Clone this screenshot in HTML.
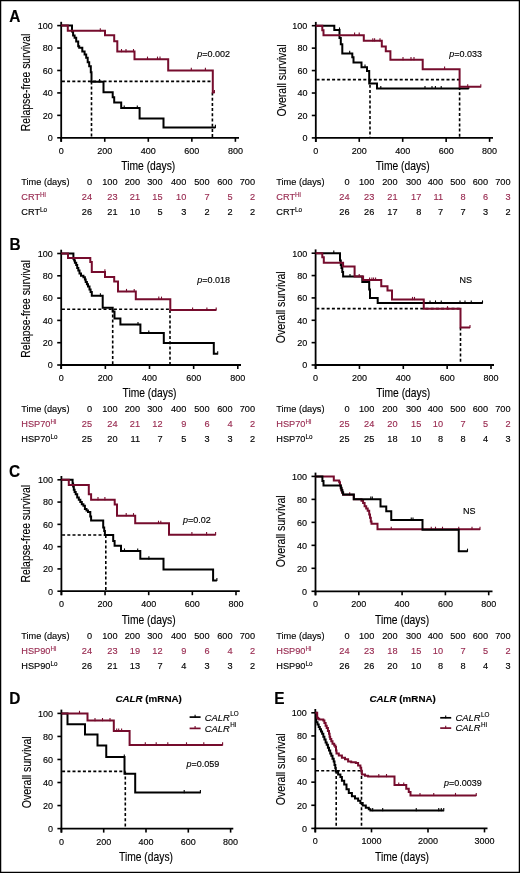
<!DOCTYPE html>
<html><head><meta charset="utf-8"><style>
html,body{margin:0;padding:0;background:#fff;}
svg{display:block;will-change:transform;}
text{font-family:"Liberation Sans", sans-serif;}
</style></head><body>
<svg width="520" height="873" viewBox="0 0 520 873">
<rect x="0" y="0" width="520" height="873" fill="#fff" stroke="none"/>
<rect x="0.6" y="0.6" width="518.8" height="871.8" fill="none" stroke="#000" stroke-width="1.3"/>
<g stroke="#000" fill="#000">
<text x="0" y="0" font-size="16.6" stroke="#000" stroke-width="0.14" font-weight="bold" transform="translate(9.2 21.6) scale(0.93 1)">A</text>
<line x1="61.20" y1="21.80" x2="61.20" y2="141.80" stroke-width="1.8"/>
<line x1="60.30" y1="137.80" x2="239.00" y2="137.80" stroke-width="1.8"/>
<line x1="57.20" y1="137.80" x2="61.20" y2="137.80" stroke-width="1.6"/>
<text x="52.8" y="141.1" font-size="9" text-anchor="end" stroke="#000" stroke-width="0.14">0</text>
<line x1="57.20" y1="115.36" x2="61.20" y2="115.36" stroke-width="1.6"/>
<text x="52.8" y="118.66" font-size="9" text-anchor="end" stroke="#000" stroke-width="0.14">20</text>
<line x1="57.20" y1="92.92" x2="61.20" y2="92.92" stroke-width="1.6"/>
<text x="52.8" y="96.22" font-size="9" text-anchor="end" stroke="#000" stroke-width="0.14">40</text>
<line x1="57.20" y1="70.48" x2="61.20" y2="70.48" stroke-width="1.6"/>
<text x="52.8" y="73.78" font-size="9" text-anchor="end" stroke="#000" stroke-width="0.14">60</text>
<line x1="57.20" y1="48.04" x2="61.20" y2="48.04" stroke-width="1.6"/>
<text x="52.8" y="51.34" font-size="9" text-anchor="end" stroke="#000" stroke-width="0.14">80</text>
<line x1="57.20" y1="25.60" x2="61.20" y2="25.60" stroke-width="1.6"/>
<text x="52.8" y="28.9" font-size="9" text-anchor="end" stroke="#000" stroke-width="0.14">100</text>
<line x1="61.20" y1="137.80" x2="61.20" y2="141.80" stroke-width="1.6"/>
<text x="61.2" y="153.8" font-size="9" text-anchor="middle" stroke="#000" stroke-width="0.14">0</text>
<line x1="104.75" y1="137.80" x2="104.75" y2="141.80" stroke-width="1.6"/>
<text x="104.75" y="153.8" font-size="9" text-anchor="middle" stroke="#000" stroke-width="0.14">200</text>
<line x1="148.30" y1="137.80" x2="148.30" y2="141.80" stroke-width="1.6"/>
<text x="148.3" y="153.8" font-size="9" text-anchor="middle" stroke="#000" stroke-width="0.14">400</text>
<line x1="191.85" y1="137.80" x2="191.85" y2="141.80" stroke-width="1.6"/>
<text x="191.85" y="153.8" font-size="9" text-anchor="middle" stroke="#000" stroke-width="0.14">600</text>
<line x1="235.40" y1="137.80" x2="235.40" y2="141.80" stroke-width="1.6"/>
<text x="235.4" y="153.8" font-size="9" text-anchor="middle" stroke="#000" stroke-width="0.14">800</text>
<text x="148.3" y="170.1" font-size="12.2" text-anchor="middle" stroke="#000" stroke-width="0.14" textLength="54" lengthAdjust="spacingAndGlyphs">Time (days)</text>
<text x="0" y="0" font-size="12.2" text-anchor="middle" stroke="#000" stroke-width="0.14" textLength="97.5" lengthAdjust="spacingAndGlyphs" transform="translate(29.80 82.40) rotate(-90)">Relapse-free survival</text>
<line x1="61.90" y1="81.40" x2="212.60" y2="81.40" stroke-width="1.6" stroke-dasharray="3,2.2"/>
<line x1="91.50" y1="81.40" x2="91.50" y2="137.80" stroke-width="1.6" stroke-dasharray="3,2.2"/>
<line x1="212.40" y1="92.50" x2="212.40" y2="137.80" stroke-width="1.6" stroke-dasharray="3,2.2"/>
<path d="M61.2 25.6 H72 V31.5 H73.1 V35.4 H74.6 V37.7 H76.2 V41.5 H78.2 V46.2 H79.2 V47.7 H82.3 V51.5 H84.6 V54.6 H86.2 V57.7 H87.7 V62.3 H89.2 V66.2 H90.8 V72.3 H91.5 V81.7 H103.5 V92.2 H112.7 V97.3 H114.2 V102.4 H121.2 V108 H139.6 V118.4 H163.5 V127.4 H215.4" fill="none" stroke="#000" stroke-width="2.0"/>
<line x1="99.60" y1="82.30" x2="99.60" y2="79.10" stroke-width="1.1"/>
<line x1="124.20" y1="108.60" x2="124.20" y2="105.40" stroke-width="1.1"/>
<line x1="137.30" y1="108.60" x2="137.30" y2="105.40" stroke-width="1.1"/>
<line x1="215.40" y1="128.00" x2="215.40" y2="124.80" stroke-width="1.1"/>
<path d="M61.2 25.6 H67.8 V30.8 H105 V35.3 H114.2 V41.2 H117.3 V51.6 H134.5 V59.2 H168.2 V70.4 H212.8 V92.5 H214.6" fill="none" stroke="#760c2d" stroke-width="2.0"/>
<line x1="100.30" y1="31.40" x2="100.30" y2="28.20" stroke="#760c2d" stroke-width="1.1"/>
<line x1="121.50" y1="52.20" x2="121.50" y2="49.00" stroke="#760c2d" stroke-width="1.1"/>
<line x1="126.00" y1="52.20" x2="126.00" y2="49.00" stroke="#760c2d" stroke-width="1.1"/>
<line x1="133.50" y1="52.20" x2="133.50" y2="49.00" stroke="#760c2d" stroke-width="1.1"/>
<line x1="147.50" y1="59.80" x2="147.50" y2="56.60" stroke="#760c2d" stroke-width="1.1"/>
<line x1="157.50" y1="59.80" x2="157.50" y2="56.60" stroke="#760c2d" stroke-width="1.1"/>
<line x1="160.00" y1="59.80" x2="160.00" y2="56.60" stroke="#760c2d" stroke-width="1.1"/>
<line x1="191.30" y1="71.00" x2="191.30" y2="67.80" stroke="#760c2d" stroke-width="1.1"/>
<line x1="205.40" y1="71.00" x2="205.40" y2="67.80" stroke="#760c2d" stroke-width="1.1"/>
<line x1="214.40" y1="93.10" x2="214.40" y2="89.90" stroke="#760c2d" stroke-width="1.1"/>
<text x="197.2" y="56.8" font-size="9" stroke="#000" stroke-width="0.14"><tspan font-style="italic">p</tspan>=0.002</text>
<text x="21.3" y="185.0" font-size="9.2" stroke="#000" stroke-width="0.14">Time (days)</text>
<text x="92" y="185.0" font-size="9.2" text-anchor="end" stroke="#000" stroke-width="0.14">0</text>
<text x="117.5" y="185.0" font-size="9.2" text-anchor="end" stroke="#000" stroke-width="0.14">100</text>
<text x="140" y="185.0" font-size="9.2" text-anchor="end" stroke="#000" stroke-width="0.14">200</text>
<text x="162.5" y="185.0" font-size="9.2" text-anchor="end" stroke="#000" stroke-width="0.14">300</text>
<text x="186.25" y="185.0" font-size="9.2" text-anchor="end" stroke="#000" stroke-width="0.14">400</text>
<text x="209.5" y="185.0" font-size="9.2" text-anchor="end" stroke="#000" stroke-width="0.14">500</text>
<text x="232.5" y="185.0" font-size="9.2" text-anchor="end" stroke="#000" stroke-width="0.14">600</text>
<text x="255" y="185.0" font-size="9.2" text-anchor="end" stroke="#000" stroke-width="0.14">700</text>
<text x="21.3" y="200.29999999999998" font-size="9.2" fill="#982a50" stroke="#982a50" stroke-width="0.14">CRT<tspan font-size="6.3" dy="-3.3">Hi</tspan></text>
<text x="92" y="200.29999999999998" font-size="9.2" text-anchor="end" fill="#982a50" stroke="#982a50" stroke-width="0.14">24</text>
<text x="117.5" y="200.29999999999998" font-size="9.2" text-anchor="end" fill="#982a50" stroke="#982a50" stroke-width="0.14">23</text>
<text x="140" y="200.29999999999998" font-size="9.2" text-anchor="end" fill="#982a50" stroke="#982a50" stroke-width="0.14">21</text>
<text x="162.5" y="200.29999999999998" font-size="9.2" text-anchor="end" fill="#982a50" stroke="#982a50" stroke-width="0.14">15</text>
<text x="186.25" y="200.29999999999998" font-size="9.2" text-anchor="end" fill="#982a50" stroke="#982a50" stroke-width="0.14">10</text>
<text x="209.5" y="200.29999999999998" font-size="9.2" text-anchor="end" fill="#982a50" stroke="#982a50" stroke-width="0.14">7</text>
<text x="232.5" y="200.29999999999998" font-size="9.2" text-anchor="end" fill="#982a50" stroke="#982a50" stroke-width="0.14">5</text>
<text x="255" y="200.29999999999998" font-size="9.2" text-anchor="end" fill="#982a50" stroke="#982a50" stroke-width="0.14">2</text>
<text x="21.3" y="215.1" font-size="9.2" stroke="#000" stroke-width="0.14">CRT<tspan font-size="6.3" dy="-3.3">Lo</tspan></text>
<text x="92" y="215.1" font-size="9.2" text-anchor="end" stroke="#000" stroke-width="0.14">26</text>
<text x="117.5" y="215.1" font-size="9.2" text-anchor="end" stroke="#000" stroke-width="0.14">21</text>
<text x="140" y="215.1" font-size="9.2" text-anchor="end" stroke="#000" stroke-width="0.14">10</text>
<text x="162.5" y="215.1" font-size="9.2" text-anchor="end" stroke="#000" stroke-width="0.14">5</text>
<text x="186.25" y="215.1" font-size="9.2" text-anchor="end" stroke="#000" stroke-width="0.14">3</text>
<text x="209.5" y="215.1" font-size="9.2" text-anchor="end" stroke="#000" stroke-width="0.14">2</text>
<text x="232.5" y="215.1" font-size="9.2" text-anchor="end" stroke="#000" stroke-width="0.14">2</text>
<text x="255" y="215.1" font-size="9.2" text-anchor="end" stroke="#000" stroke-width="0.14">2</text>
<line x1="315.80" y1="21.90" x2="315.80" y2="141.90" stroke-width="1.8"/>
<line x1="314.90" y1="137.90" x2="493.00" y2="137.90" stroke-width="1.8"/>
<line x1="311.80" y1="137.90" x2="315.80" y2="137.90" stroke-width="1.6"/>
<text x="307.4" y="141.2" font-size="9" text-anchor="end" stroke="#000" stroke-width="0.14">0</text>
<line x1="311.80" y1="115.46" x2="315.80" y2="115.46" stroke-width="1.6"/>
<text x="307.4" y="118.76" font-size="9" text-anchor="end" stroke="#000" stroke-width="0.14">20</text>
<line x1="311.80" y1="93.02" x2="315.80" y2="93.02" stroke-width="1.6"/>
<text x="307.4" y="96.32" font-size="9" text-anchor="end" stroke="#000" stroke-width="0.14">40</text>
<line x1="311.80" y1="70.58" x2="315.80" y2="70.58" stroke-width="1.6"/>
<text x="307.4" y="73.88" font-size="9" text-anchor="end" stroke="#000" stroke-width="0.14">60</text>
<line x1="311.80" y1="48.14" x2="315.80" y2="48.14" stroke-width="1.6"/>
<text x="307.4" y="51.44" font-size="9" text-anchor="end" stroke="#000" stroke-width="0.14">80</text>
<line x1="311.80" y1="25.70" x2="315.80" y2="25.70" stroke-width="1.6"/>
<text x="307.4" y="29.0" font-size="9" text-anchor="end" stroke="#000" stroke-width="0.14">100</text>
<line x1="315.80" y1="137.90" x2="315.80" y2="141.90" stroke-width="1.6"/>
<text x="315.8" y="153.9" font-size="9" text-anchor="middle" stroke="#000" stroke-width="0.14">0</text>
<line x1="359.25" y1="137.90" x2="359.25" y2="141.90" stroke-width="1.6"/>
<text x="359.25" y="153.9" font-size="9" text-anchor="middle" stroke="#000" stroke-width="0.14">200</text>
<line x1="402.70" y1="137.90" x2="402.70" y2="141.90" stroke-width="1.6"/>
<text x="402.7" y="153.9" font-size="9" text-anchor="middle" stroke="#000" stroke-width="0.14">400</text>
<line x1="446.15" y1="137.90" x2="446.15" y2="141.90" stroke-width="1.6"/>
<text x="446.15" y="153.9" font-size="9" text-anchor="middle" stroke="#000" stroke-width="0.14">600</text>
<line x1="489.60" y1="137.90" x2="489.60" y2="141.90" stroke-width="1.6"/>
<text x="489.6" y="153.9" font-size="9" text-anchor="middle" stroke="#000" stroke-width="0.14">800</text>
<text x="402.7" y="170.2" font-size="12.2" text-anchor="middle" stroke="#000" stroke-width="0.14" textLength="54" lengthAdjust="spacingAndGlyphs">Time (days)</text>
<text x="0" y="0" font-size="12.2" text-anchor="middle" stroke="#000" stroke-width="0.14" textLength="72" lengthAdjust="spacingAndGlyphs" transform="translate(285.60 80.50) rotate(-90)">Overall survival</text>
<line x1="316.50" y1="79.60" x2="459.60" y2="79.60" stroke-width="1.6" stroke-dasharray="3,2.2"/>
<line x1="370.00" y1="79.60" x2="370.00" y2="137.90" stroke-width="1.6" stroke-dasharray="3,2.2"/>
<line x1="459.60" y1="87.00" x2="459.60" y2="137.90" stroke-width="1.6" stroke-dasharray="3,2.2"/>
<path d="M315.8 25.7 H334.3 V30 H339.5 V38 H340.8 V44.2 H342.3 V53.4 H352.3 V57.2 H353.5 V62.6 H361.5 V67.2 H367 V71 H369.2 V83.4 H377 V88.5 H468.8" fill="none" stroke="#000" stroke-width="2.0"/>
<line x1="339.50" y1="30.60" x2="339.50" y2="27.40" stroke-width="1.1"/>
<line x1="349.70" y1="54.00" x2="349.70" y2="50.80" stroke-width="1.1"/>
<line x1="365.00" y1="67.80" x2="365.00" y2="64.60" stroke-width="1.1"/>
<line x1="380.80" y1="89.10" x2="380.80" y2="85.90" stroke-width="1.1"/>
<line x1="425.00" y1="89.10" x2="425.00" y2="85.90" stroke-width="1.1"/>
<line x1="432.00" y1="89.10" x2="432.00" y2="85.90" stroke-width="1.1"/>
<line x1="435.40" y1="89.10" x2="435.40" y2="85.90" stroke-width="1.1"/>
<line x1="441.20" y1="89.10" x2="441.20" y2="85.90" stroke-width="1.1"/>
<line x1="468.80" y1="89.10" x2="468.80" y2="85.90" stroke-width="1.1"/>
<path d="M315.8 25.7 H322.3 V30.3 H323.5 V35.2 H363.8 V40.8 H381.8 V46.5 H385.8 V51.2 H390.4 V59.7 H422.7 V69.2 H459.6 V86.8 H480.8" fill="none" stroke="#760c2d" stroke-width="2.0"/>
<line x1="354.60" y1="35.80" x2="354.60" y2="32.60" stroke="#760c2d" stroke-width="1.1"/>
<line x1="359.20" y1="35.80" x2="359.20" y2="32.60" stroke="#760c2d" stroke-width="1.1"/>
<line x1="372.80" y1="41.40" x2="372.80" y2="38.20" stroke="#760c2d" stroke-width="1.1"/>
<line x1="374.60" y1="41.40" x2="374.60" y2="38.20" stroke="#760c2d" stroke-width="1.1"/>
<line x1="380.00" y1="41.40" x2="380.00" y2="38.20" stroke="#760c2d" stroke-width="1.1"/>
<line x1="403.00" y1="60.30" x2="403.00" y2="57.10" stroke="#760c2d" stroke-width="1.1"/>
<line x1="411.00" y1="60.30" x2="411.00" y2="57.10" stroke="#760c2d" stroke-width="1.1"/>
<line x1="414.00" y1="60.30" x2="414.00" y2="57.10" stroke="#760c2d" stroke-width="1.1"/>
<line x1="444.60" y1="69.80" x2="444.60" y2="66.60" stroke="#760c2d" stroke-width="1.1"/>
<line x1="467.70" y1="87.40" x2="467.70" y2="84.20" stroke="#760c2d" stroke-width="1.1"/>
<line x1="480.80" y1="87.40" x2="480.80" y2="84.20" stroke="#760c2d" stroke-width="1.1"/>
<text x="449.2" y="56.9" font-size="9" stroke="#000" stroke-width="0.14"><tspan font-style="italic">p</tspan>=0.033</text>
<text x="276.3" y="185.0" font-size="9.2" stroke="#000" stroke-width="0.14">Time (days)</text>
<text x="349.5" y="185.0" font-size="9.2" text-anchor="end" stroke="#000" stroke-width="0.14">0</text>
<text x="374.25" y="185.0" font-size="9.2" text-anchor="end" stroke="#000" stroke-width="0.14">100</text>
<text x="397.5" y="185.0" font-size="9.2" text-anchor="end" stroke="#000" stroke-width="0.14">200</text>
<text x="421.25" y="185.0" font-size="9.2" text-anchor="end" stroke="#000" stroke-width="0.14">300</text>
<text x="443" y="185.0" font-size="9.2" text-anchor="end" stroke="#000" stroke-width="0.14">400</text>
<text x="465.5" y="185.0" font-size="9.2" text-anchor="end" stroke="#000" stroke-width="0.14">500</text>
<text x="488" y="185.0" font-size="9.2" text-anchor="end" stroke="#000" stroke-width="0.14">600</text>
<text x="510.5" y="185.0" font-size="9.2" text-anchor="end" stroke="#000" stroke-width="0.14">700</text>
<text x="276.3" y="200.29999999999998" font-size="9.2" fill="#982a50" stroke="#982a50" stroke-width="0.14">CRT<tspan font-size="6.3" dy="-3.3">Hi</tspan></text>
<text x="349.5" y="200.29999999999998" font-size="9.2" text-anchor="end" fill="#982a50" stroke="#982a50" stroke-width="0.14">24</text>
<text x="374.25" y="200.29999999999998" font-size="9.2" text-anchor="end" fill="#982a50" stroke="#982a50" stroke-width="0.14">23</text>
<text x="397.5" y="200.29999999999998" font-size="9.2" text-anchor="end" fill="#982a50" stroke="#982a50" stroke-width="0.14">21</text>
<text x="421.25" y="200.29999999999998" font-size="9.2" text-anchor="end" fill="#982a50" stroke="#982a50" stroke-width="0.14">17</text>
<text x="443" y="200.29999999999998" font-size="9.2" text-anchor="end" fill="#982a50" stroke="#982a50" stroke-width="0.14">11</text>
<text x="465.5" y="200.29999999999998" font-size="9.2" text-anchor="end" fill="#982a50" stroke="#982a50" stroke-width="0.14">8</text>
<text x="488" y="200.29999999999998" font-size="9.2" text-anchor="end" fill="#982a50" stroke="#982a50" stroke-width="0.14">6</text>
<text x="510.5" y="200.29999999999998" font-size="9.2" text-anchor="end" fill="#982a50" stroke="#982a50" stroke-width="0.14">3</text>
<text x="276.3" y="215.1" font-size="9.2" stroke="#000" stroke-width="0.14">CRT<tspan font-size="6.3" dy="-3.3">Lo</tspan></text>
<text x="349.5" y="215.1" font-size="9.2" text-anchor="end" stroke="#000" stroke-width="0.14">26</text>
<text x="374.25" y="215.1" font-size="9.2" text-anchor="end" stroke="#000" stroke-width="0.14">26</text>
<text x="397.5" y="215.1" font-size="9.2" text-anchor="end" stroke="#000" stroke-width="0.14">17</text>
<text x="421.25" y="215.1" font-size="9.2" text-anchor="end" stroke="#000" stroke-width="0.14">8</text>
<text x="443" y="215.1" font-size="9.2" text-anchor="end" stroke="#000" stroke-width="0.14">7</text>
<text x="465.5" y="215.1" font-size="9.2" text-anchor="end" stroke="#000" stroke-width="0.14">7</text>
<text x="488" y="215.1" font-size="9.2" text-anchor="end" stroke="#000" stroke-width="0.14">3</text>
<text x="510.5" y="215.1" font-size="9.2" text-anchor="end" stroke="#000" stroke-width="0.14">2</text>
<text x="0" y="0" font-size="16.6" stroke="#000" stroke-width="0.14" font-weight="bold" transform="translate(9.4 249.7) scale(0.93 1)">B</text>
<line x1="61.20" y1="249.70" x2="61.20" y2="369.00" stroke-width="1.8"/>
<line x1="60.30" y1="365.00" x2="241.00" y2="365.00" stroke-width="1.8"/>
<line x1="57.20" y1="365.00" x2="61.20" y2="365.00" stroke-width="1.6"/>
<text x="52.8" y="368.3" font-size="9" text-anchor="end" stroke="#000" stroke-width="0.14">0</text>
<line x1="57.20" y1="342.70" x2="61.20" y2="342.70" stroke-width="1.6"/>
<text x="52.8" y="346.0" font-size="9" text-anchor="end" stroke="#000" stroke-width="0.14">20</text>
<line x1="57.20" y1="320.40" x2="61.20" y2="320.40" stroke-width="1.6"/>
<text x="52.8" y="323.7" font-size="9" text-anchor="end" stroke="#000" stroke-width="0.14">40</text>
<line x1="57.20" y1="298.10" x2="61.20" y2="298.10" stroke-width="1.6"/>
<text x="52.8" y="301.4" font-size="9" text-anchor="end" stroke="#000" stroke-width="0.14">60</text>
<line x1="57.20" y1="275.80" x2="61.20" y2="275.80" stroke-width="1.6"/>
<text x="52.8" y="279.1" font-size="9" text-anchor="end" stroke="#000" stroke-width="0.14">80</text>
<line x1="57.20" y1="253.50" x2="61.20" y2="253.50" stroke-width="1.6"/>
<text x="52.8" y="256.8" font-size="9" text-anchor="end" stroke="#000" stroke-width="0.14">100</text>
<line x1="61.20" y1="365.00" x2="61.20" y2="369.00" stroke-width="1.6"/>
<text x="61.2" y="381.0" font-size="9" text-anchor="middle" stroke="#000" stroke-width="0.14">0</text>
<line x1="105.35" y1="365.00" x2="105.35" y2="369.00" stroke-width="1.6"/>
<text x="105.35" y="381.0" font-size="9" text-anchor="middle" stroke="#000" stroke-width="0.14">200</text>
<line x1="149.50" y1="365.00" x2="149.50" y2="369.00" stroke-width="1.6"/>
<text x="149.5" y="381.0" font-size="9" text-anchor="middle" stroke="#000" stroke-width="0.14">400</text>
<line x1="193.65" y1="365.00" x2="193.65" y2="369.00" stroke-width="1.6"/>
<text x="193.65" y="381.0" font-size="9" text-anchor="middle" stroke="#000" stroke-width="0.14">600</text>
<line x1="237.80" y1="365.00" x2="237.80" y2="369.00" stroke-width="1.6"/>
<text x="237.8" y="381.0" font-size="9" text-anchor="middle" stroke="#000" stroke-width="0.14">800</text>
<text x="149.5" y="397.3" font-size="12.2" text-anchor="middle" stroke="#000" stroke-width="0.14" textLength="54" lengthAdjust="spacingAndGlyphs">Time (days)</text>
<text x="0" y="0" font-size="12.2" text-anchor="middle" stroke="#000" stroke-width="0.14" textLength="97.5" lengthAdjust="spacingAndGlyphs" transform="translate(29.80 308.90) rotate(-90)">Relapse-free survival</text>
<line x1="61.90" y1="309.20" x2="170.00" y2="309.20" stroke-width="1.6" stroke-dasharray="3,2.2"/>
<line x1="112.70" y1="309.20" x2="112.70" y2="365.00" stroke-width="1.6" stroke-dasharray="3,2.2"/>
<line x1="170.00" y1="310.00" x2="170.00" y2="365.00" stroke-width="1.6" stroke-dasharray="3,2.2"/>
<path d="M61.2 253.5 H73.4 V258.8 H74.2 V260.4 H74.9 V262.7 H76.2 V265 H77.2 V268.1 H78.3 V270.4 H79.5 V273.5 H81 V275.8 H83.4 V277.3 H84.9 V279.6 H85.7 V281.9 H86.9 V284.2 H88 V286.5 H89.5 V289.6 H90.6 V291.9 H91.8 V295.8 H102.7 V307.7 H112.7 V311.5 H114.5 V318.5 H120.4 V324.6 H140.4 V333.1 H163.8 V343.1 H213.8 V353.8 H217.7" fill="none" stroke="#000" stroke-width="2.0"/>
<line x1="100.40" y1="296.40" x2="100.40" y2="293.20" stroke-width="1.1"/>
<line x1="138.00" y1="325.20" x2="138.00" y2="322.00" stroke-width="1.1"/>
<line x1="148.80" y1="333.70" x2="148.80" y2="330.50" stroke-width="1.1"/>
<line x1="217.70" y1="354.40" x2="217.70" y2="351.20" stroke-width="1.1"/>
<path d="M61.2 253.5 H68 V258.1 H90.3 V262 H91.8 V271.9 H105 V277 H114.2 V281.5 H118 V291.5 H135.8 V299.2 H170.3 V310 H216.2" fill="none" stroke="#760c2d" stroke-width="2.0"/>
<line x1="68.00" y1="258.70" x2="68.00" y2="255.50" stroke="#760c2d" stroke-width="1.1"/>
<line x1="104.90" y1="272.50" x2="104.90" y2="269.30" stroke="#760c2d" stroke-width="1.1"/>
<line x1="126.50" y1="292.10" x2="126.50" y2="288.90" stroke="#760c2d" stroke-width="1.1"/>
<line x1="134.20" y1="292.10" x2="134.20" y2="288.90" stroke="#760c2d" stroke-width="1.1"/>
<line x1="158.80" y1="299.80" x2="158.80" y2="296.60" stroke="#760c2d" stroke-width="1.1"/>
<line x1="161.50" y1="299.80" x2="161.50" y2="296.60" stroke="#760c2d" stroke-width="1.1"/>
<line x1="192.60" y1="310.60" x2="192.60" y2="307.40" stroke="#760c2d" stroke-width="1.1"/>
<line x1="206.90" y1="310.60" x2="206.90" y2="307.40" stroke="#760c2d" stroke-width="1.1"/>
<line x1="216.20" y1="310.60" x2="216.20" y2="307.40" stroke="#760c2d" stroke-width="1.1"/>
<text x="197.3" y="282.9" font-size="9" stroke="#000" stroke-width="0.14"><tspan font-style="italic">p</tspan>=0.018</text>
<text x="21.3" y="412.0" font-size="9.2" stroke="#000" stroke-width="0.14">Time (days)</text>
<text x="92" y="412.0" font-size="9.2" text-anchor="end" stroke="#000" stroke-width="0.14">0</text>
<text x="117.5" y="412.0" font-size="9.2" text-anchor="end" stroke="#000" stroke-width="0.14">100</text>
<text x="140" y="412.0" font-size="9.2" text-anchor="end" stroke="#000" stroke-width="0.14">200</text>
<text x="162.5" y="412.0" font-size="9.2" text-anchor="end" stroke="#000" stroke-width="0.14">300</text>
<text x="186.25" y="412.0" font-size="9.2" text-anchor="end" stroke="#000" stroke-width="0.14">400</text>
<text x="209.5" y="412.0" font-size="9.2" text-anchor="end" stroke="#000" stroke-width="0.14">500</text>
<text x="232.5" y="412.0" font-size="9.2" text-anchor="end" stroke="#000" stroke-width="0.14">600</text>
<text x="255" y="412.0" font-size="9.2" text-anchor="end" stroke="#000" stroke-width="0.14">700</text>
<text x="21.3" y="427.0" font-size="9.2" fill="#982a50" stroke="#982a50" stroke-width="0.14">HSP70<tspan font-size="6.3" dy="-3.3">Hi</tspan></text>
<text x="92" y="427.0" font-size="9.2" text-anchor="end" fill="#982a50" stroke="#982a50" stroke-width="0.14">25</text>
<text x="117.5" y="427.0" font-size="9.2" text-anchor="end" fill="#982a50" stroke="#982a50" stroke-width="0.14">24</text>
<text x="140" y="427.0" font-size="9.2" text-anchor="end" fill="#982a50" stroke="#982a50" stroke-width="0.14">21</text>
<text x="162.5" y="427.0" font-size="9.2" text-anchor="end" fill="#982a50" stroke="#982a50" stroke-width="0.14">12</text>
<text x="186.25" y="427.0" font-size="9.2" text-anchor="end" fill="#982a50" stroke="#982a50" stroke-width="0.14">9</text>
<text x="209.5" y="427.0" font-size="9.2" text-anchor="end" fill="#982a50" stroke="#982a50" stroke-width="0.14">6</text>
<text x="232.5" y="427.0" font-size="9.2" text-anchor="end" fill="#982a50" stroke="#982a50" stroke-width="0.14">4</text>
<text x="255" y="427.0" font-size="9.2" text-anchor="end" fill="#982a50" stroke="#982a50" stroke-width="0.14">2</text>
<text x="21.3" y="442.09999999999997" font-size="9.2" stroke="#000" stroke-width="0.14">HSP70<tspan font-size="6.3" dy="-3.3">Lo</tspan></text>
<text x="92" y="442.09999999999997" font-size="9.2" text-anchor="end" stroke="#000" stroke-width="0.14">25</text>
<text x="117.5" y="442.09999999999997" font-size="9.2" text-anchor="end" stroke="#000" stroke-width="0.14">20</text>
<text x="140" y="442.09999999999997" font-size="9.2" text-anchor="end" stroke="#000" stroke-width="0.14">11</text>
<text x="162.5" y="442.09999999999997" font-size="9.2" text-anchor="end" stroke="#000" stroke-width="0.14">7</text>
<text x="186.25" y="442.09999999999997" font-size="9.2" text-anchor="end" stroke="#000" stroke-width="0.14">5</text>
<text x="209.5" y="442.09999999999997" font-size="9.2" text-anchor="end" stroke="#000" stroke-width="0.14">3</text>
<text x="232.5" y="442.09999999999997" font-size="9.2" text-anchor="end" stroke="#000" stroke-width="0.14">3</text>
<text x="255" y="442.09999999999997" font-size="9.2" text-anchor="end" stroke="#000" stroke-width="0.14">2</text>
<line x1="315.60" y1="249.40" x2="315.60" y2="369.00" stroke-width="1.8"/>
<line x1="314.70" y1="365.00" x2="494.00" y2="365.00" stroke-width="1.8"/>
<line x1="311.60" y1="365.00" x2="315.60" y2="365.00" stroke-width="1.6"/>
<text x="307.2" y="368.3" font-size="9" text-anchor="end" stroke="#000" stroke-width="0.14">0</text>
<line x1="311.60" y1="342.64" x2="315.60" y2="342.64" stroke-width="1.6"/>
<text x="307.2" y="345.94" font-size="9" text-anchor="end" stroke="#000" stroke-width="0.14">20</text>
<line x1="311.60" y1="320.28" x2="315.60" y2="320.28" stroke-width="1.6"/>
<text x="307.2" y="323.58" font-size="9" text-anchor="end" stroke="#000" stroke-width="0.14">40</text>
<line x1="311.60" y1="297.92" x2="315.60" y2="297.92" stroke-width="1.6"/>
<text x="307.2" y="301.22" font-size="9" text-anchor="end" stroke="#000" stroke-width="0.14">60</text>
<line x1="311.60" y1="275.56" x2="315.60" y2="275.56" stroke-width="1.6"/>
<text x="307.2" y="278.86" font-size="9" text-anchor="end" stroke="#000" stroke-width="0.14">80</text>
<line x1="311.60" y1="253.20" x2="315.60" y2="253.20" stroke-width="1.6"/>
<text x="307.2" y="256.5" font-size="9" text-anchor="end" stroke="#000" stroke-width="0.14">100</text>
<line x1="315.60" y1="365.00" x2="315.60" y2="369.00" stroke-width="1.6"/>
<text x="315.6" y="381.0" font-size="9" text-anchor="middle" stroke="#000" stroke-width="0.14">0</text>
<line x1="359.45" y1="365.00" x2="359.45" y2="369.00" stroke-width="1.6"/>
<text x="359.45" y="381.0" font-size="9" text-anchor="middle" stroke="#000" stroke-width="0.14">200</text>
<line x1="403.30" y1="365.00" x2="403.30" y2="369.00" stroke-width="1.6"/>
<text x="403.3" y="381.0" font-size="9" text-anchor="middle" stroke="#000" stroke-width="0.14">400</text>
<line x1="447.15" y1="365.00" x2="447.15" y2="369.00" stroke-width="1.6"/>
<text x="447.15" y="381.0" font-size="9" text-anchor="middle" stroke="#000" stroke-width="0.14">600</text>
<line x1="491.00" y1="365.00" x2="491.00" y2="369.00" stroke-width="1.6"/>
<text x="491.0" y="381.0" font-size="9" text-anchor="middle" stroke="#000" stroke-width="0.14">800</text>
<text x="403.3" y="397.3" font-size="12.2" text-anchor="middle" stroke="#000" stroke-width="0.14" textLength="54" lengthAdjust="spacingAndGlyphs">Time (days)</text>
<text x="0" y="0" font-size="12.2" text-anchor="middle" stroke="#000" stroke-width="0.14" textLength="72" lengthAdjust="spacingAndGlyphs" transform="translate(285.40 307.30) rotate(-90)">Overall survival</text>
<line x1="316.30" y1="308.60" x2="460.50" y2="308.60" stroke-width="1.6" stroke-dasharray="3,2.2"/>
<line x1="460.50" y1="327.50" x2="460.50" y2="365.00" stroke-width="1.6" stroke-dasharray="3,2.2"/>
<path d="M315.6 253.2 H340 V260.4 H340.8 V265 H341.5 V268 H342.3 V272 H343.1 V276.5 H362.3 V281.9 H369.2 V289.6 H370 V298.1 H377.7 V303 H482.5" fill="none" stroke="#000" stroke-width="2.0"/>
<line x1="333.80" y1="253.80" x2="333.80" y2="250.60" stroke-width="1.1"/>
<line x1="350.00" y1="277.10" x2="350.00" y2="273.90" stroke-width="1.1"/>
<line x1="423.75" y1="303.60" x2="423.75" y2="300.40" stroke-width="1.1"/>
<line x1="430.00" y1="303.60" x2="430.00" y2="300.40" stroke-width="1.1"/>
<line x1="435.50" y1="303.60" x2="435.50" y2="300.40" stroke-width="1.1"/>
<line x1="441.25" y1="303.60" x2="441.25" y2="300.40" stroke-width="1.1"/>
<line x1="460.00" y1="303.60" x2="460.00" y2="300.40" stroke-width="1.1"/>
<line x1="465.00" y1="303.60" x2="465.00" y2="300.40" stroke-width="1.1"/>
<line x1="471.25" y1="303.60" x2="471.25" y2="300.40" stroke-width="1.1"/>
<line x1="482.50" y1="303.60" x2="482.50" y2="300.40" stroke-width="1.1"/>
<path d="M315.6 253.2 H322.3 V257.3 H323.8 V262.7 H343.1 V266.5 H354.6 V276.5 H363.1 V280 H381.25 V286.25 H387.5 V290.5 H392 V299.5 H423.75 V308.75 H460.5 V327.5 H470" fill="none" stroke="#760c2d" stroke-width="2.0"/>
<line x1="359.20" y1="277.10" x2="359.20" y2="273.90" stroke="#760c2d" stroke-width="1.1"/>
<line x1="369.60" y1="280.60" x2="369.60" y2="277.40" stroke="#760c2d" stroke-width="1.1"/>
<line x1="371.90" y1="280.60" x2="371.90" y2="277.40" stroke="#760c2d" stroke-width="1.1"/>
<line x1="373.60" y1="280.60" x2="373.60" y2="277.40" stroke="#760c2d" stroke-width="1.1"/>
<line x1="375.60" y1="280.60" x2="375.60" y2="277.40" stroke="#760c2d" stroke-width="1.1"/>
<line x1="412.50" y1="300.10" x2="412.50" y2="296.90" stroke="#760c2d" stroke-width="1.1"/>
<line x1="414.50" y1="300.10" x2="414.50" y2="296.90" stroke="#760c2d" stroke-width="1.1"/>
<line x1="447.50" y1="309.35" x2="447.50" y2="306.15" stroke="#760c2d" stroke-width="1.1"/>
<line x1="470.00" y1="328.10" x2="470.00" y2="324.90" stroke="#760c2d" stroke-width="1.1"/>
<text x="459.5" y="283" font-size="9" stroke="#000" stroke-width="0.14">NS</text>
<text x="276.3" y="412.2" font-size="9.2" stroke="#000" stroke-width="0.14">Time (days)</text>
<text x="349.5" y="412.2" font-size="9.2" text-anchor="end" stroke="#000" stroke-width="0.14">0</text>
<text x="374.25" y="412.2" font-size="9.2" text-anchor="end" stroke="#000" stroke-width="0.14">100</text>
<text x="397.5" y="412.2" font-size="9.2" text-anchor="end" stroke="#000" stroke-width="0.14">200</text>
<text x="421.25" y="412.2" font-size="9.2" text-anchor="end" stroke="#000" stroke-width="0.14">300</text>
<text x="443" y="412.2" font-size="9.2" text-anchor="end" stroke="#000" stroke-width="0.14">400</text>
<text x="465.5" y="412.2" font-size="9.2" text-anchor="end" stroke="#000" stroke-width="0.14">500</text>
<text x="488" y="412.2" font-size="9.2" text-anchor="end" stroke="#000" stroke-width="0.14">600</text>
<text x="510.5" y="412.2" font-size="9.2" text-anchor="end" stroke="#000" stroke-width="0.14">700</text>
<text x="276.3" y="427.2" font-size="9.2" fill="#982a50" stroke="#982a50" stroke-width="0.14">HSP70<tspan font-size="6.3" dy="-3.3">Hi</tspan></text>
<text x="349.5" y="427.2" font-size="9.2" text-anchor="end" fill="#982a50" stroke="#982a50" stroke-width="0.14">25</text>
<text x="374.25" y="427.2" font-size="9.2" text-anchor="end" fill="#982a50" stroke="#982a50" stroke-width="0.14">24</text>
<text x="397.5" y="427.2" font-size="9.2" text-anchor="end" fill="#982a50" stroke="#982a50" stroke-width="0.14">20</text>
<text x="421.25" y="427.2" font-size="9.2" text-anchor="end" fill="#982a50" stroke="#982a50" stroke-width="0.14">15</text>
<text x="443" y="427.2" font-size="9.2" text-anchor="end" fill="#982a50" stroke="#982a50" stroke-width="0.14">10</text>
<text x="465.5" y="427.2" font-size="9.2" text-anchor="end" fill="#982a50" stroke="#982a50" stroke-width="0.14">7</text>
<text x="488" y="427.2" font-size="9.2" text-anchor="end" fill="#982a50" stroke="#982a50" stroke-width="0.14">5</text>
<text x="510.5" y="427.2" font-size="9.2" text-anchor="end" fill="#982a50" stroke="#982a50" stroke-width="0.14">2</text>
<text x="276.3" y="442.2" font-size="9.2" stroke="#000" stroke-width="0.14">HSP70<tspan font-size="6.3" dy="-3.3">Lo</tspan></text>
<text x="349.5" y="442.2" font-size="9.2" text-anchor="end" stroke="#000" stroke-width="0.14">25</text>
<text x="374.25" y="442.2" font-size="9.2" text-anchor="end" stroke="#000" stroke-width="0.14">25</text>
<text x="397.5" y="442.2" font-size="9.2" text-anchor="end" stroke="#000" stroke-width="0.14">18</text>
<text x="421.25" y="442.2" font-size="9.2" text-anchor="end" stroke="#000" stroke-width="0.14">10</text>
<text x="443" y="442.2" font-size="9.2" text-anchor="end" stroke="#000" stroke-width="0.14">8</text>
<text x="465.5" y="442.2" font-size="9.2" text-anchor="end" stroke="#000" stroke-width="0.14">8</text>
<text x="488" y="442.2" font-size="9.2" text-anchor="end" stroke="#000" stroke-width="0.14">4</text>
<text x="510.5" y="442.2" font-size="9.2" text-anchor="end" stroke="#000" stroke-width="0.14">3</text>
<text x="0" y="0" font-size="16.6" stroke="#000" stroke-width="0.14" font-weight="bold" transform="translate(9.0 477.1) scale(0.93 1)">C</text>
<line x1="61.40" y1="476.00" x2="61.40" y2="595.20" stroke-width="1.8"/>
<line x1="60.50" y1="591.20" x2="239.80" y2="591.20" stroke-width="1.8"/>
<line x1="57.40" y1="591.20" x2="61.40" y2="591.20" stroke-width="1.6"/>
<text x="53.0" y="594.5" font-size="9" text-anchor="end" stroke="#000" stroke-width="0.14">0</text>
<line x1="57.40" y1="568.92" x2="61.40" y2="568.92" stroke-width="1.6"/>
<text x="53.0" y="572.22" font-size="9" text-anchor="end" stroke="#000" stroke-width="0.14">20</text>
<line x1="57.40" y1="546.64" x2="61.40" y2="546.64" stroke-width="1.6"/>
<text x="53.0" y="549.94" font-size="9" text-anchor="end" stroke="#000" stroke-width="0.14">40</text>
<line x1="57.40" y1="524.36" x2="61.40" y2="524.36" stroke-width="1.6"/>
<text x="53.0" y="527.66" font-size="9" text-anchor="end" stroke="#000" stroke-width="0.14">60</text>
<line x1="57.40" y1="502.08" x2="61.40" y2="502.08" stroke-width="1.6"/>
<text x="53.0" y="505.38" font-size="9" text-anchor="end" stroke="#000" stroke-width="0.14">80</text>
<line x1="57.40" y1="479.80" x2="61.40" y2="479.80" stroke-width="1.6"/>
<text x="53.0" y="483.1" font-size="9" text-anchor="end" stroke="#000" stroke-width="0.14">100</text>
<line x1="61.40" y1="591.20" x2="61.40" y2="595.20" stroke-width="1.6"/>
<text x="61.4" y="607.2" font-size="9" text-anchor="middle" stroke="#000" stroke-width="0.14">0</text>
<line x1="105.05" y1="591.20" x2="105.05" y2="595.20" stroke-width="1.6"/>
<text x="105.05" y="607.2" font-size="9" text-anchor="middle" stroke="#000" stroke-width="0.14">200</text>
<line x1="148.70" y1="591.20" x2="148.70" y2="595.20" stroke-width="1.6"/>
<text x="148.7" y="607.2" font-size="9" text-anchor="middle" stroke="#000" stroke-width="0.14">400</text>
<line x1="192.35" y1="591.20" x2="192.35" y2="595.20" stroke-width="1.6"/>
<text x="192.35" y="607.2" font-size="9" text-anchor="middle" stroke="#000" stroke-width="0.14">600</text>
<line x1="236.00" y1="591.20" x2="236.00" y2="595.20" stroke-width="1.6"/>
<text x="236.0" y="607.2" font-size="9" text-anchor="middle" stroke="#000" stroke-width="0.14">800</text>
<text x="148.7" y="623.5" font-size="12.2" text-anchor="middle" stroke="#000" stroke-width="0.14" textLength="54" lengthAdjust="spacingAndGlyphs">Time (days)</text>
<text x="0" y="0" font-size="12.2" text-anchor="middle" stroke="#000" stroke-width="0.14" textLength="97.5" lengthAdjust="spacingAndGlyphs" transform="translate(30.00 533.70) rotate(-90)">Relapse-free survival</text>
<line x1="62.10" y1="535.00" x2="105.80" y2="535.00" stroke-width="1.6" stroke-dasharray="3,2.2"/>
<line x1="105.80" y1="535.00" x2="105.80" y2="591.20" stroke-width="1.6" stroke-dasharray="3,2.2"/>
<path d="M61.4 479.8 H72.6 V483.5 H73.1 V486.6 H73.8 V489.7 H74.6 V492 H75.7 V494.3 H77.2 V497.4 H78.8 V499.7 H80.3 V502 H81.8 V504.3 H83.4 V505.8 H84.9 V508.9 H86.5 V510.5 H88 V512 H90.3 V516.6 H91.1 V520.6 H103.2 V527.4 H104.2 V531 H104.9 V535 H113.2 V541 H114.6 V545.8 H121 V551 H140.3 V558.8 H163.5 V569.4 H213.1 V580.5 H216.9" fill="none" stroke="#000" stroke-width="2.0"/>
<line x1="124.50" y1="551.60" x2="124.50" y2="548.40" stroke-width="1.1"/>
<line x1="137.70" y1="551.60" x2="137.70" y2="548.40" stroke-width="1.1"/>
<line x1="148.90" y1="559.40" x2="148.90" y2="556.20" stroke-width="1.1"/>
<line x1="216.90" y1="581.10" x2="216.90" y2="577.90" stroke-width="1.1"/>
<path d="M61.4 479.8 H68.8 V485.1 H88.8 V494.3 H91.1 V499.7 H114.7 V504.5 H117 V515.7 H135.2 V523.3 H169 V534.7 H215.6" fill="none" stroke="#760c2d" stroke-width="2.0"/>
<line x1="98.00" y1="500.30" x2="98.00" y2="497.10" stroke="#760c2d" stroke-width="1.1"/>
<line x1="104.90" y1="500.30" x2="104.90" y2="497.10" stroke="#760c2d" stroke-width="1.1"/>
<line x1="126.20" y1="516.30" x2="126.20" y2="513.10" stroke="#760c2d" stroke-width="1.1"/>
<line x1="133.50" y1="516.30" x2="133.50" y2="513.10" stroke="#760c2d" stroke-width="1.1"/>
<line x1="158.50" y1="523.90" x2="158.50" y2="520.70" stroke="#760c2d" stroke-width="1.1"/>
<line x1="160.80" y1="523.90" x2="160.80" y2="520.70" stroke="#760c2d" stroke-width="1.1"/>
<line x1="191.90" y1="535.30" x2="191.90" y2="532.10" stroke="#760c2d" stroke-width="1.1"/>
<line x1="206.60" y1="535.30" x2="206.60" y2="532.10" stroke="#760c2d" stroke-width="1.1"/>
<line x1="215.60" y1="535.30" x2="215.60" y2="532.10" stroke="#760c2d" stroke-width="1.1"/>
<text x="183" y="523" font-size="9" stroke="#000" stroke-width="0.14"><tspan font-style="italic">p</tspan>=0.02</text>
<text x="21.3" y="639.2" font-size="9.2" stroke="#000" stroke-width="0.14">Time (days)</text>
<text x="92" y="639.2" font-size="9.2" text-anchor="end" stroke="#000" stroke-width="0.14">0</text>
<text x="117.5" y="639.2" font-size="9.2" text-anchor="end" stroke="#000" stroke-width="0.14">100</text>
<text x="140" y="639.2" font-size="9.2" text-anchor="end" stroke="#000" stroke-width="0.14">200</text>
<text x="162.5" y="639.2" font-size="9.2" text-anchor="end" stroke="#000" stroke-width="0.14">300</text>
<text x="186.25" y="639.2" font-size="9.2" text-anchor="end" stroke="#000" stroke-width="0.14">400</text>
<text x="209.5" y="639.2" font-size="9.2" text-anchor="end" stroke="#000" stroke-width="0.14">500</text>
<text x="232.5" y="639.2" font-size="9.2" text-anchor="end" stroke="#000" stroke-width="0.14">600</text>
<text x="255" y="639.2" font-size="9.2" text-anchor="end" stroke="#000" stroke-width="0.14">700</text>
<text x="21.3" y="654.2" font-size="9.2" fill="#982a50" stroke="#982a50" stroke-width="0.14">HSP90<tspan font-size="6.3" dy="-3.3">Hi</tspan></text>
<text x="92" y="654.2" font-size="9.2" text-anchor="end" fill="#982a50" stroke="#982a50" stroke-width="0.14">24</text>
<text x="117.5" y="654.2" font-size="9.2" text-anchor="end" fill="#982a50" stroke="#982a50" stroke-width="0.14">23</text>
<text x="140" y="654.2" font-size="9.2" text-anchor="end" fill="#982a50" stroke="#982a50" stroke-width="0.14">19</text>
<text x="162.5" y="654.2" font-size="9.2" text-anchor="end" fill="#982a50" stroke="#982a50" stroke-width="0.14">12</text>
<text x="186.25" y="654.2" font-size="9.2" text-anchor="end" fill="#982a50" stroke="#982a50" stroke-width="0.14">9</text>
<text x="209.5" y="654.2" font-size="9.2" text-anchor="end" fill="#982a50" stroke="#982a50" stroke-width="0.14">6</text>
<text x="232.5" y="654.2" font-size="9.2" text-anchor="end" fill="#982a50" stroke="#982a50" stroke-width="0.14">4</text>
<text x="255" y="654.2" font-size="9.2" text-anchor="end" fill="#982a50" stroke="#982a50" stroke-width="0.14">2</text>
<text x="21.3" y="669.2" font-size="9.2" stroke="#000" stroke-width="0.14">HSP90<tspan font-size="6.3" dy="-3.3">Lo</tspan></text>
<text x="92" y="669.2" font-size="9.2" text-anchor="end" stroke="#000" stroke-width="0.14">26</text>
<text x="117.5" y="669.2" font-size="9.2" text-anchor="end" stroke="#000" stroke-width="0.14">21</text>
<text x="140" y="669.2" font-size="9.2" text-anchor="end" stroke="#000" stroke-width="0.14">13</text>
<text x="162.5" y="669.2" font-size="9.2" text-anchor="end" stroke="#000" stroke-width="0.14">7</text>
<text x="186.25" y="669.2" font-size="9.2" text-anchor="end" stroke="#000" stroke-width="0.14">4</text>
<text x="209.5" y="669.2" font-size="9.2" text-anchor="end" stroke="#000" stroke-width="0.14">3</text>
<text x="232.5" y="669.2" font-size="9.2" text-anchor="end" stroke="#000" stroke-width="0.14">3</text>
<text x="255" y="669.2" font-size="9.2" text-anchor="end" stroke="#000" stroke-width="0.14">2</text>
<line x1="315.50" y1="472.60" x2="315.50" y2="595.30" stroke-width="1.8"/>
<line x1="314.60" y1="591.30" x2="492.50" y2="591.30" stroke-width="1.8"/>
<line x1="311.50" y1="591.30" x2="315.50" y2="591.30" stroke-width="1.6"/>
<text x="307.1" y="594.6" font-size="9" text-anchor="end" stroke="#000" stroke-width="0.14">0</text>
<line x1="311.50" y1="568.32" x2="315.50" y2="568.32" stroke-width="1.6"/>
<text x="307.1" y="571.62" font-size="9" text-anchor="end" stroke="#000" stroke-width="0.14">20</text>
<line x1="311.50" y1="545.34" x2="315.50" y2="545.34" stroke-width="1.6"/>
<text x="307.1" y="548.64" font-size="9" text-anchor="end" stroke="#000" stroke-width="0.14">40</text>
<line x1="311.50" y1="522.36" x2="315.50" y2="522.36" stroke-width="1.6"/>
<text x="307.1" y="525.66" font-size="9" text-anchor="end" stroke="#000" stroke-width="0.14">60</text>
<line x1="311.50" y1="499.38" x2="315.50" y2="499.38" stroke-width="1.6"/>
<text x="307.1" y="502.68" font-size="9" text-anchor="end" stroke="#000" stroke-width="0.14">80</text>
<line x1="311.50" y1="476.40" x2="315.50" y2="476.40" stroke-width="1.6"/>
<text x="307.1" y="479.7" font-size="9" text-anchor="end" stroke="#000" stroke-width="0.14">100</text>
<line x1="315.50" y1="591.30" x2="315.50" y2="595.30" stroke-width="1.6"/>
<text x="315.5" y="607.3" font-size="9" text-anchor="middle" stroke="#000" stroke-width="0.14">0</text>
<line x1="358.80" y1="591.30" x2="358.80" y2="595.30" stroke-width="1.6"/>
<text x="358.8" y="607.3" font-size="9" text-anchor="middle" stroke="#000" stroke-width="0.14">200</text>
<line x1="402.10" y1="591.30" x2="402.10" y2="595.30" stroke-width="1.6"/>
<text x="402.1" y="607.3" font-size="9" text-anchor="middle" stroke="#000" stroke-width="0.14">400</text>
<line x1="445.40" y1="591.30" x2="445.40" y2="595.30" stroke-width="1.6"/>
<text x="445.4" y="607.3" font-size="9" text-anchor="middle" stroke="#000" stroke-width="0.14">600</text>
<line x1="488.70" y1="591.30" x2="488.70" y2="595.30" stroke-width="1.6"/>
<text x="488.7" y="607.3" font-size="9" text-anchor="middle" stroke="#000" stroke-width="0.14">800</text>
<text x="402.1" y="623.6" font-size="12.2" text-anchor="middle" stroke="#000" stroke-width="0.14" textLength="54" lengthAdjust="spacingAndGlyphs">Time (days)</text>
<text x="0" y="0" font-size="12.2" text-anchor="middle" stroke="#000" stroke-width="0.14" textLength="72" lengthAdjust="spacingAndGlyphs" transform="translate(285.30 531.30) rotate(-90)">Overall survival</text>
<path d="M315.5 476.4 H333.8 V480.5 H339.2 V482.3 H340 V485.4 H340.8 V488.5 H341.5 V490.8 H342.3 V493.1 H343.1 V494.8 H353.8 V499.2 H361.5 V500.8 H363.1 V503 H364.6 V506.2 H366.2 V508.5 H367.7 V510.8 H369.2 V514.6 H370 V517.7 H370.8 V521.5 H371.5 V523.8 H377.5 V529.3 H480" fill="none" stroke="#760c2d" stroke-width="2.0"/>
<line x1="349.70" y1="495.40" x2="349.70" y2="492.20" stroke="#760c2d" stroke-width="1.1"/>
<line x1="391.25" y1="529.90" x2="391.25" y2="526.70" stroke="#760c2d" stroke-width="1.1"/>
<line x1="431.25" y1="529.90" x2="431.25" y2="526.70" stroke="#760c2d" stroke-width="1.1"/>
<line x1="435.50" y1="529.90" x2="435.50" y2="526.70" stroke="#760c2d" stroke-width="1.1"/>
<line x1="442.50" y1="529.90" x2="442.50" y2="526.70" stroke="#760c2d" stroke-width="1.1"/>
<line x1="458.75" y1="529.90" x2="458.75" y2="526.70" stroke="#760c2d" stroke-width="1.1"/>
<line x1="472.00" y1="529.90" x2="472.00" y2="526.70" stroke="#760c2d" stroke-width="1.1"/>
<line x1="480.00" y1="529.90" x2="480.00" y2="526.70" stroke="#760c2d" stroke-width="1.1"/>
<path d="M315.5 476.4 H322.4 V481 H323.5 V485.6 H340.8 V487.7 H341.5 V490 H342.3 V492.3 H343.1 V494.6 H353.8 V499.2 H380.5 V506.5 H386.25 V511.25 H391.25 V520 H422.5 V529.7 H458.75 V551.25 H467.5" fill="none" stroke="#000" stroke-width="2.0"/>
<line x1="370.80" y1="499.80" x2="370.80" y2="496.60" stroke-width="1.1"/>
<line x1="372.30" y1="499.80" x2="372.30" y2="496.60" stroke-width="1.1"/>
<line x1="411.25" y1="520.60" x2="411.25" y2="517.40" stroke-width="1.1"/>
<line x1="413.00" y1="520.60" x2="413.00" y2="517.40" stroke-width="1.1"/>
<line x1="467.50" y1="551.85" x2="467.50" y2="548.65" stroke-width="1.1"/>
<text x="463" y="514.3" font-size="9" stroke="#000" stroke-width="0.14">NS</text>
<text x="276.3" y="639.2" font-size="9.2" stroke="#000" stroke-width="0.14">Time (days)</text>
<text x="349.5" y="639.2" font-size="9.2" text-anchor="end" stroke="#000" stroke-width="0.14">0</text>
<text x="374.25" y="639.2" font-size="9.2" text-anchor="end" stroke="#000" stroke-width="0.14">100</text>
<text x="397.5" y="639.2" font-size="9.2" text-anchor="end" stroke="#000" stroke-width="0.14">200</text>
<text x="421.25" y="639.2" font-size="9.2" text-anchor="end" stroke="#000" stroke-width="0.14">300</text>
<text x="443" y="639.2" font-size="9.2" text-anchor="end" stroke="#000" stroke-width="0.14">400</text>
<text x="465.5" y="639.2" font-size="9.2" text-anchor="end" stroke="#000" stroke-width="0.14">500</text>
<text x="488" y="639.2" font-size="9.2" text-anchor="end" stroke="#000" stroke-width="0.14">600</text>
<text x="510.5" y="639.2" font-size="9.2" text-anchor="end" stroke="#000" stroke-width="0.14">700</text>
<text x="276.3" y="654.2" font-size="9.2" fill="#982a50" stroke="#982a50" stroke-width="0.14">HSP90<tspan font-size="6.3" dy="-3.3">Hi</tspan></text>
<text x="349.5" y="654.2" font-size="9.2" text-anchor="end" fill="#982a50" stroke="#982a50" stroke-width="0.14">24</text>
<text x="374.25" y="654.2" font-size="9.2" text-anchor="end" fill="#982a50" stroke="#982a50" stroke-width="0.14">23</text>
<text x="397.5" y="654.2" font-size="9.2" text-anchor="end" fill="#982a50" stroke="#982a50" stroke-width="0.14">18</text>
<text x="421.25" y="654.2" font-size="9.2" text-anchor="end" fill="#982a50" stroke="#982a50" stroke-width="0.14">15</text>
<text x="443" y="654.2" font-size="9.2" text-anchor="end" fill="#982a50" stroke="#982a50" stroke-width="0.14">10</text>
<text x="465.5" y="654.2" font-size="9.2" text-anchor="end" fill="#982a50" stroke="#982a50" stroke-width="0.14">7</text>
<text x="488" y="654.2" font-size="9.2" text-anchor="end" fill="#982a50" stroke="#982a50" stroke-width="0.14">5</text>
<text x="510.5" y="654.2" font-size="9.2" text-anchor="end" fill="#982a50" stroke="#982a50" stroke-width="0.14">2</text>
<text x="276.3" y="669.2" font-size="9.2" stroke="#000" stroke-width="0.14">HSP90<tspan font-size="6.3" dy="-3.3">Lo</tspan></text>
<text x="349.5" y="669.2" font-size="9.2" text-anchor="end" stroke="#000" stroke-width="0.14">26</text>
<text x="374.25" y="669.2" font-size="9.2" text-anchor="end" stroke="#000" stroke-width="0.14">26</text>
<text x="397.5" y="669.2" font-size="9.2" text-anchor="end" stroke="#000" stroke-width="0.14">20</text>
<text x="421.25" y="669.2" font-size="9.2" text-anchor="end" stroke="#000" stroke-width="0.14">10</text>
<text x="443" y="669.2" font-size="9.2" text-anchor="end" stroke="#000" stroke-width="0.14">8</text>
<text x="465.5" y="669.2" font-size="9.2" text-anchor="end" stroke="#000" stroke-width="0.14">8</text>
<text x="488" y="669.2" font-size="9.2" text-anchor="end" stroke="#000" stroke-width="0.14">4</text>
<text x="510.5" y="669.2" font-size="9.2" text-anchor="end" stroke="#000" stroke-width="0.14">3</text>
<text x="0" y="0" font-size="16.6" stroke="#000" stroke-width="0.14" font-weight="bold" transform="translate(9.3 704.0) scale(0.93 1)">D</text>
<line x1="61.40" y1="709.60" x2="61.40" y2="832.60" stroke-width="1.8"/>
<line x1="60.50" y1="828.60" x2="233.30" y2="828.60" stroke-width="1.8"/>
<line x1="57.40" y1="828.60" x2="61.40" y2="828.60" stroke-width="1.6"/>
<text x="53.0" y="831.9" font-size="9" text-anchor="end" stroke="#000" stroke-width="0.14">0</text>
<line x1="57.40" y1="805.56" x2="61.40" y2="805.56" stroke-width="1.6"/>
<text x="53.0" y="808.86" font-size="9" text-anchor="end" stroke="#000" stroke-width="0.14">20</text>
<line x1="57.40" y1="782.52" x2="61.40" y2="782.52" stroke-width="1.6"/>
<text x="53.0" y="785.82" font-size="9" text-anchor="end" stroke="#000" stroke-width="0.14">40</text>
<line x1="57.40" y1="759.48" x2="61.40" y2="759.48" stroke-width="1.6"/>
<text x="53.0" y="762.78" font-size="9" text-anchor="end" stroke="#000" stroke-width="0.14">60</text>
<line x1="57.40" y1="736.44" x2="61.40" y2="736.44" stroke-width="1.6"/>
<text x="53.0" y="739.74" font-size="9" text-anchor="end" stroke="#000" stroke-width="0.14">80</text>
<line x1="57.40" y1="713.40" x2="61.40" y2="713.40" stroke-width="1.6"/>
<text x="53.0" y="716.7" font-size="9" text-anchor="end" stroke="#000" stroke-width="0.14">100</text>
<line x1="61.40" y1="828.60" x2="61.40" y2="832.60" stroke-width="1.6"/>
<text x="61.4" y="844.6" font-size="9" text-anchor="middle" stroke="#000" stroke-width="0.14">0</text>
<line x1="103.70" y1="828.60" x2="103.70" y2="832.60" stroke-width="1.6"/>
<text x="103.7" y="844.6" font-size="9" text-anchor="middle" stroke="#000" stroke-width="0.14">200</text>
<line x1="146.00" y1="828.60" x2="146.00" y2="832.60" stroke-width="1.6"/>
<text x="146.0" y="844.6" font-size="9" text-anchor="middle" stroke="#000" stroke-width="0.14">400</text>
<line x1="188.30" y1="828.60" x2="188.30" y2="832.60" stroke-width="1.6"/>
<text x="188.3" y="844.6" font-size="9" text-anchor="middle" stroke="#000" stroke-width="0.14">600</text>
<line x1="230.60" y1="828.60" x2="230.60" y2="832.60" stroke-width="1.6"/>
<text x="230.6" y="844.6" font-size="9" text-anchor="middle" stroke="#000" stroke-width="0.14">800</text>
<text x="146.0" y="860.9" font-size="12.2" text-anchor="middle" stroke="#000" stroke-width="0.14" textLength="54" lengthAdjust="spacingAndGlyphs">Time (days)</text>
<text x="0" y="0" font-size="12.2" text-anchor="middle" stroke="#000" stroke-width="0.14" textLength="72" lengthAdjust="spacingAndGlyphs" transform="translate(31.20 772.30) rotate(-90)">Overall survival</text>
<line x1="62.10" y1="771.40" x2="125.30" y2="771.40" stroke-width="1.6" stroke-dasharray="3,2.2"/>
<line x1="125.30" y1="771.40" x2="125.30" y2="828.60" stroke-width="1.6" stroke-dasharray="3,2.2"/>
<path d="M61.4 713.4 H67.5 V724.25 H85 V734.5 H97.5 V745.5 H106.25 V757 H124.5 V773.8 H135.2 V792.6 H200.4" fill="none" stroke="#000" stroke-width="2.0"/>
<line x1="124.30" y1="757.60" x2="124.30" y2="754.40" stroke-width="1.1"/>
<line x1="184.20" y1="793.20" x2="184.20" y2="790.00" stroke-width="1.1"/>
<line x1="200.40" y1="793.20" x2="200.40" y2="790.00" stroke-width="1.1"/>
<path d="M61.4 713.4 H87.5 V720.6 H113.8 V731 H129.6 V744.9 H222.6" fill="none" stroke="#760c2d" stroke-width="2.0"/>
<line x1="79.50" y1="714.00" x2="79.50" y2="710.80" stroke="#760c2d" stroke-width="1.1"/>
<line x1="95.00" y1="721.20" x2="95.00" y2="718.00" stroke="#760c2d" stroke-width="1.1"/>
<line x1="102.50" y1="721.20" x2="102.50" y2="718.00" stroke="#760c2d" stroke-width="1.1"/>
<line x1="110.00" y1="721.20" x2="110.00" y2="718.00" stroke="#760c2d" stroke-width="1.1"/>
<line x1="116.70" y1="731.60" x2="116.70" y2="728.40" stroke="#760c2d" stroke-width="1.1"/>
<line x1="118.70" y1="731.60" x2="118.70" y2="728.40" stroke="#760c2d" stroke-width="1.1"/>
<line x1="121.60" y1="731.60" x2="121.60" y2="728.40" stroke="#760c2d" stroke-width="1.1"/>
<line x1="145.30" y1="745.50" x2="145.30" y2="742.30" stroke="#760c2d" stroke-width="1.1"/>
<line x1="156.20" y1="745.50" x2="156.20" y2="742.30" stroke="#760c2d" stroke-width="1.1"/>
<line x1="167.80" y1="745.50" x2="167.80" y2="742.30" stroke="#760c2d" stroke-width="1.1"/>
<line x1="186.50" y1="745.50" x2="186.50" y2="742.30" stroke="#760c2d" stroke-width="1.1"/>
<line x1="203.80" y1="745.50" x2="203.80" y2="742.30" stroke="#760c2d" stroke-width="1.1"/>
<line x1="222.60" y1="745.50" x2="222.60" y2="742.30" stroke="#760c2d" stroke-width="1.1"/>
<text x="186.5" y="766.5" font-size="9" stroke="#000" stroke-width="0.14"><tspan font-style="italic">p</tspan>=0.059</text>
<text x="115.4" y="702" font-size="9.8" stroke="#000" stroke-width="0.14" font-weight="bold"><tspan font-style="italic">CALR</tspan> (mRNA)</text>
<line x1="189.60" y1="717.10" x2="200.60" y2="717.10" stroke-width="1.7"/>
<line x1="195.10" y1="717.60" x2="195.10" y2="714.70" stroke-width="1.1"/>
<text x="204.8" y="720.5" font-size="9.4" stroke="#000" stroke-width="0.14" font-style="italic">CALR<tspan font-size="6.3" dy="-4.3" dx="0.5" font-style="normal">LO</tspan></text>
<line x1="189.60" y1="728.40" x2="200.60" y2="728.40" stroke="#760c2d" stroke-width="1.7"/>
<line x1="195.10" y1="728.90" x2="195.10" y2="726.00" stroke="#760c2d" stroke-width="1.1"/>
<text x="204.8" y="731.6" font-size="9.4" stroke="#000" stroke-width="0.14" font-style="italic">CALR<tspan font-size="6.3" dy="-4.3" dx="0.5" font-style="normal">Hi</tspan></text>
<text x="0" y="0" font-size="16.6" stroke="#000" stroke-width="0.14" font-weight="bold" transform="translate(274.2 704.0) scale(0.93 1)">E</text>
<line x1="315.30" y1="709.00" x2="315.30" y2="832.40" stroke-width="1.8"/>
<line x1="314.40" y1="828.40" x2="487.50" y2="828.40" stroke-width="1.8"/>
<line x1="311.30" y1="828.40" x2="315.30" y2="828.40" stroke-width="1.6"/>
<text x="306.9" y="831.7" font-size="9" text-anchor="end" stroke="#000" stroke-width="0.14">0</text>
<line x1="311.30" y1="805.28" x2="315.30" y2="805.28" stroke-width="1.6"/>
<text x="306.9" y="808.58" font-size="9" text-anchor="end" stroke="#000" stroke-width="0.14">20</text>
<line x1="311.30" y1="782.16" x2="315.30" y2="782.16" stroke-width="1.6"/>
<text x="306.9" y="785.46" font-size="9" text-anchor="end" stroke="#000" stroke-width="0.14">40</text>
<line x1="311.30" y1="759.04" x2="315.30" y2="759.04" stroke-width="1.6"/>
<text x="306.9" y="762.34" font-size="9" text-anchor="end" stroke="#000" stroke-width="0.14">60</text>
<line x1="311.30" y1="735.92" x2="315.30" y2="735.92" stroke-width="1.6"/>
<text x="306.9" y="739.22" font-size="9" text-anchor="end" stroke="#000" stroke-width="0.14">80</text>
<line x1="311.30" y1="712.80" x2="315.30" y2="712.80" stroke-width="1.6"/>
<text x="306.9" y="716.1" font-size="9" text-anchor="end" stroke="#000" stroke-width="0.14">100</text>
<line x1="315.30" y1="828.40" x2="315.30" y2="832.40" stroke-width="1.6"/>
<text x="315.3" y="844.4" font-size="9" text-anchor="middle" stroke="#000" stroke-width="0.14">0</text>
<line x1="371.50" y1="828.40" x2="371.50" y2="832.40" stroke-width="1.6"/>
<text x="371.5" y="844.4" font-size="9" text-anchor="middle" stroke="#000" stroke-width="0.14">1000</text>
<line x1="428.00" y1="828.40" x2="428.00" y2="832.40" stroke-width="1.6"/>
<text x="428" y="844.4" font-size="9" text-anchor="middle" stroke="#000" stroke-width="0.14">2000</text>
<line x1="484.50" y1="828.40" x2="484.50" y2="832.40" stroke-width="1.6"/>
<text x="484.5" y="844.4" font-size="9" text-anchor="middle" stroke="#000" stroke-width="0.14">3000</text>
<text x="402" y="860.7" font-size="12.2" text-anchor="middle" stroke="#000" stroke-width="0.14" textLength="54" lengthAdjust="spacingAndGlyphs">Time (days)</text>
<text x="0" y="0" font-size="12.2" text-anchor="middle" stroke="#000" stroke-width="0.14" textLength="72" lengthAdjust="spacingAndGlyphs" transform="translate(285.10 769.30) rotate(-90)">Overall survival</text>
<line x1="316.00" y1="770.80" x2="361.50" y2="770.80" stroke-width="1.6" stroke-dasharray="3,2.2"/>
<line x1="336.20" y1="770.80" x2="336.20" y2="828.40" stroke-width="1.6" stroke-dasharray="3,2.2"/>
<line x1="361.50" y1="770.80" x2="361.50" y2="828.40" stroke-width="1.6" stroke-dasharray="3,2.2"/>
<path d="M315.3 712.8 H316.3 V722.3 H317.5 V724.6 H318.7 V726.9 H319.8 V729.2 H321 V731.5 H322.1 V733.8 H323.3 V736.7 H324.4 V739.6 H325.6 V742.5 H326.7 V744.8 H327.9 V747.7 H329 V750.6 H330.2 V753.5 H331.3 V755.8 H332.5 V758.7 H333.7 V761.5 H334.5 V765 H335.3 V768 H335.8 V771.5 H338.1 V774.6 H340.4 V776.9 H341.9 V780.8 H344.2 V784.6 H346.5 V789.2 H348.8 V793.1 H351.9 V796.2 H355 V798.5 H358.1 V800.8 H360.4 V803.1 H362.7 V805.4 H365.8 V807.7 H368.8 V809.2 H370.4 V810.6 H443.75 V810.6" fill="none" stroke="#000" stroke-width="2.0"/>
<line x1="372.70" y1="811.20" x2="372.70" y2="808.00" stroke-width="1.1"/>
<line x1="382.70" y1="811.20" x2="382.70" y2="808.00" stroke-width="1.1"/>
<line x1="416.25" y1="811.20" x2="416.25" y2="808.00" stroke-width="1.1"/>
<line x1="438.75" y1="811.20" x2="438.75" y2="808.00" stroke-width="1.1"/>
<line x1="441.25" y1="811.20" x2="441.25" y2="808.00" stroke-width="1.1"/>
<line x1="443.75" y1="811.20" x2="443.75" y2="808.00" stroke-width="1.1"/>
<path d="M315.3 712.8 H316.9 V712.8 H317.2 V717.7 H318.1 V718.8 H319.2 V719.4 H321.5 V719.4 H323.3 V720.6 H324.4 V722.9 H325.6 V725.8 H326.7 V728.1 H327.9 V731 H329 V733.8 H329.6 V736.7 H330.2 V739 H331.3 V741.3 H332.5 V743.7 H334.2 V745.4 H335.4 V747.1 H336 V750.6 H336.5 V753.5 H338.8 V755.4 H341.9 V757.7 H345 V759.2 H348.1 V761.5 H351.2 V762.3 H355.8 V763.1 H358.1 V765.4 H360.4 V767.7 H361.2 V770.8 H361.9 V774.6 H365 V775.7 H368.1 V776.6 H393.75 V776.6 H394.5 V785 H406.25 V785 H406.25 V788.75 H408.75 V788.75 H408.75 V792 H410.5 V792 H410.5 V795.5 H476.25 V795.5" fill="none" stroke="#760c2d" stroke-width="2.0"/>
<line x1="378.80" y1="777.20" x2="378.80" y2="774.00" stroke="#760c2d" stroke-width="1.1"/>
<line x1="386.50" y1="777.20" x2="386.50" y2="774.00" stroke="#760c2d" stroke-width="1.1"/>
<line x1="398.75" y1="785.60" x2="398.75" y2="782.40" stroke="#760c2d" stroke-width="1.1"/>
<line x1="403.75" y1="785.60" x2="403.75" y2="782.40" stroke="#760c2d" stroke-width="1.1"/>
<line x1="420.00" y1="796.10" x2="420.00" y2="792.90" stroke="#760c2d" stroke-width="1.1"/>
<line x1="433.75" y1="796.10" x2="433.75" y2="792.90" stroke="#760c2d" stroke-width="1.1"/>
<line x1="455.50" y1="796.10" x2="455.50" y2="792.90" stroke="#760c2d" stroke-width="1.1"/>
<line x1="476.25" y1="796.10" x2="476.25" y2="792.90" stroke="#760c2d" stroke-width="1.1"/>
<text x="444" y="785.5" font-size="9" stroke="#000" stroke-width="0.14"><tspan font-style="italic">p</tspan>=0.0039</text>
<text x="369.4" y="701.7" font-size="9.8" stroke="#000" stroke-width="0.14" font-weight="bold"><tspan font-style="italic">CALR</tspan> (mRNA)</text>
<line x1="440.20" y1="717.80" x2="451.20" y2="717.80" stroke-width="1.7"/>
<line x1="445.70" y1="718.30" x2="445.70" y2="715.40" stroke-width="1.1"/>
<text x="455.6" y="721.3" font-size="9.4" stroke="#000" stroke-width="0.14" font-style="italic">CALR<tspan font-size="6.3" dy="-4.3" dx="0.5" font-style="normal">LO</tspan></text>
<line x1="440.20" y1="728.10" x2="451.20" y2="728.10" stroke="#760c2d" stroke-width="1.7"/>
<line x1="445.70" y1="728.60" x2="445.70" y2="725.70" stroke="#760c2d" stroke-width="1.1"/>
<text x="455.6" y="731.3" font-size="9.4" stroke="#000" stroke-width="0.14" font-style="italic">CALR<tspan font-size="6.3" dy="-4.3" dx="0.5" font-style="normal">Hi</tspan></text>
</g>
</svg>
</body></html>
